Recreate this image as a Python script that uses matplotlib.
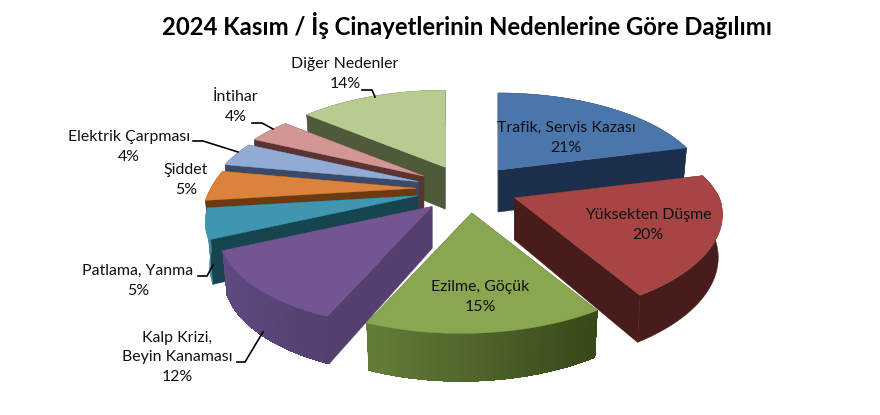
import numpy as np
import matplotlib
matplotlib.use("Agg")
import matplotlib.pyplot as plt
from matplotlib.colors import to_rgb
from matplotlib.patches import Polygon

plt.rcParams['font.family'] = ['Lato', 'DejaVu Sans']

categories = ["Trafik, Servis Kazası", "Yüksekten Düşme", "Ezilme, Göçük",
              "Kalp Krizi,\nBeyin Kanaması", "Patlama, Yanma", "Şiddet",
              "Elektrik Çarpması", "İntihar", "Diğer Nedenler"]
values = [21, 20, 15, 12, 5, 5, 4, 4, 14]

top_colors = ["#4A76AB", "#A64543", "#89A650", "#735592", "#3F96B0",
              "#DB833C", "#92ABD5", "#D29795", "#B7CC91"]
side_colors = ["#1B2F4D", "#481C1A", "#3C4B20", "#543F6E", "#164550",
               "#6B3A12", "#3A4A68", "#5A3433", "#4F5A3B"]
wall_left = ["#1B2F4D", "#481C1A", "#647E3A", "#5E4A80", "#3A8BA3",
             "#6B3A12", "#3A4A68", "#5A3433", "#4F5A3B"]
wall_right = ["#1B2F4D", "#481C1A", "#384819", "#543F6E", "#3A8BA3",
              "#6B3A12", "#3A4A68", "#5A3433", "#4F5A3B"]

# label block centres in pixels
label_pos = [(566, 138), (648, 225), (480, 297), (177, 357), (138, 281),
             (186, 180), (129, 147), (236, 107), (345, 74)]
leaders = [None, None, None,
           [(237, 362), (245, 362), (263, 332)],
           [(198, 276), (207, 276), (213, 265)],
           None,
           [(193, 141), (203, 141), (238, 152)],
           [(252, 123), (262, 123), (273, 129)],
           [(362, 90), (372, 90), (375, 97)]]

# pie geometry, pixels
cx, cy = 467, 189
explode_x, explode_y = 51, 24
rx, ry = 205, 94
persp_x, persp_y = 0.22, 0.22
shear = 11
depth = 42


def rim(theta):
    # offset from the wedge tip, angle clockwise from 12 o'clock
    t = np.radians(theta)
    u, v = np.sin(t), np.cos(t)
    dx = rx * u / (1 + persp_x * v) + shear * np.minimum(v, 0)
    dy = -ry * v / (1 + persp_y * v)
    return dx, dy, v


def lower(x, y, tip, v):
    # same point on the bottom face
    d = depth - 6 * v
    return tip[0] + (x - tip[0]) * 0.98, y + d


fig, ax = plt.subplots(figsize=(8.8, 4.15), dpi=100)
fig.subplots_adjust(0, 0, 1, 1)
ax.set_xlim(0, 880)
ax.set_ylim(415, 0)
ax.axis("off")

shares = np.array(values) / sum(values) * 360
starts = np.concatenate(([0], np.cumsum(shares)[:-1]))
mids = starts + shares / 2
order = np.argsort(-np.cos(np.radians(mids)))

for z, i in enumerate(order):
    base = 10 + z * 10
    mid = np.radians(mids[i])
    tip = (cx + explode_x * np.sin(mid), cy - explode_y * np.cos(mid))
    thetas = np.linspace(starts[i], starts[i] + shares[i], 60)
    dx, dy, vs = rim(thetas)
    xs, ys = tip[0] + dx, tip[1] + dy
    bx, by = lower(xs, ys, tip, vs)
    tip_low = (tip[0], tip[1] + depth)

    # radial walls, further one first
    faces = [0, -1] if ys[0] < ys[-1] else [-1, 0]
    for k in faces:
        ax.add_patch(Polygon([tip, (xs[k], ys[k]), (bx[k], by[k]), tip_low],
                             closed=True, fc=side_colors[i], ec=side_colors[i],
                             lw=0.3, zorder=base))
    # outer wall, solid first and then a left-right shade where there is one
    c0, c1 = np.array(to_rgb(wall_left[i])), np.array(to_rgb(wall_right[i]))
    wall = np.vstack((np.column_stack((xs, ys)),
                      np.column_stack((bx, by))[::-1]))
    ax.add_patch(Polygon(wall, closed=True, fc=(c0 + c1) / 2, ec=(c0 + c1) / 2,
                         lw=0.3, zorder=base + 1))
    if wall_left[i] != wall_right[i]:
        span = xs.max() - xs.min()
        for k in range(len(xs) - 1):
            col = c0 + (c1 - c0) * (xs[k] - xs.min()) / span
            ax.add_patch(Polygon([(xs[k], ys[k]), (xs[k + 1], ys[k + 1]),
                                  (bx[k + 1], by[k + 1]), (bx[k], by[k])],
                                 closed=True, fc=col, ec="none",
                                 antialiased=False, zorder=base + 1))
    ax.add_patch(Polygon(np.vstack(([tip], np.column_stack((xs, ys)))),
                         closed=True, fc=top_colors[i], ec=top_colors[i],
                         lw=0.3, zorder=base + 2))

for cat, val, pos, line in zip(categories, values, label_pos, leaders):
    ax.text(pos[0], pos[1], f"{cat}\n{val}%", ha="center", va="center",
            fontsize=11.4, color="#111111", linespacing=1.5, zorder=200)
    if line:
        ax.plot(*zip(*line), color="black", lw=1.2, zorder=190)

ax.text(467, 25.5, "2024 Kasım / İş Cinayetlerinin Nedenlerine Göre Dağılımı",
        ha="center", va="center", fontsize=17.2, fontweight="bold", color="black")

fig.savefig("out.png", dpi=100)
